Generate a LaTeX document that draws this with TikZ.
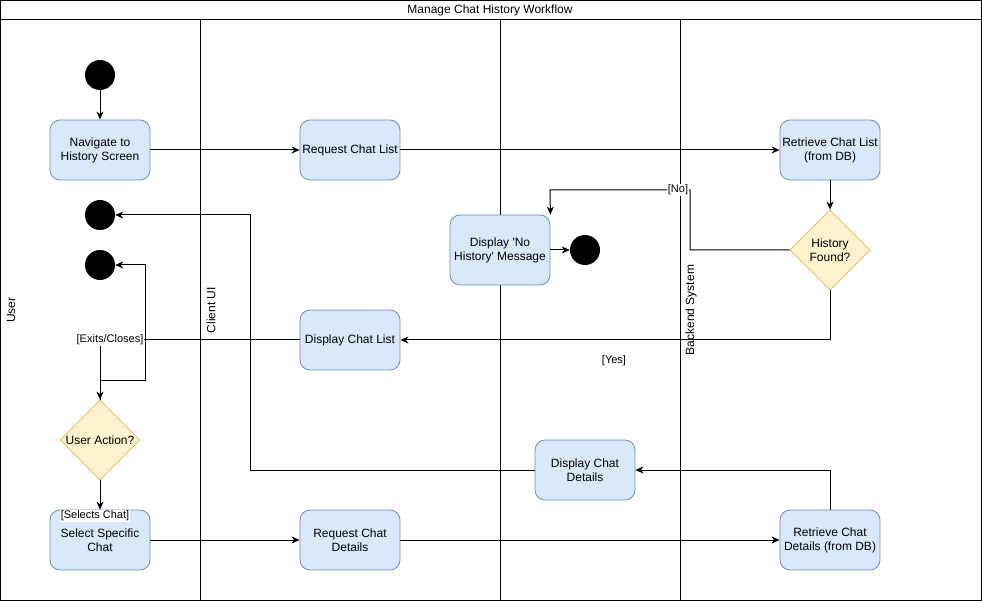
\documentclass[tikz,border=0pt]{standalone}
\usepackage{fontspec}
\setmainfont{Liberation Sans}
\usetikzlibrary{arrows.meta,shapes.geometric}
\definecolor{boxfill}{HTML}{DAE8FC}
\definecolor{boxline}{HTML}{6C8EBF}
\definecolor{decfill}{HTML}{FFF2CC}
\definecolor{decline}{HTML}{D6B656}
\begin{document}
\begin{tikzpicture}[x=1pt,y=-1pt,
  font=\fontsize{12}{14}\selectfont,
  act/.style={rectangle, rounded corners=10pt, draw=boxline, fill=boxfill, line width=0.8pt,
    minimum width=100pt, minimum height=60pt, align=center, inner sep=0pt},
  dec/.style={diamond, draw=decline, fill=decfill, line width=0.8pt,
    minimum width=80pt, minimum height=80pt, inner sep=0pt},
  dot/.style={circle, fill=black, minimum size=30pt, inner sep=0pt},
  lane/.style={draw=black, line width=1pt},
  arr/.style={draw=black, line width=1pt, -{Stealth[length=8pt,width=7pt,inset=2.5pt]}},
  elab/.style={font=\fontsize{11}{13}\selectfont, fill=white, inner sep=0.5pt},
  lanelab/.style={rotate=90, anchor=center}]
\useasboundingbox (0,0) rectangle (982,601);
% pool and lanes
\draw[lane] (0.5,0.5) rectangle (981,600);
\draw[lane] (0.5,20) -- (981,20);
\draw[lane] (200,20) -- (200,600);
\draw[lane] (500,20) -- (500,600);
\draw[lane] (680,20) -- (680,600);
\node (title) at (490,10) {Manage Chat History Workflow};
\node[lanelab] (luser) at (11,310) {User};
\node[lanelab] (lclient) at (211,310) {Client UI};
\node[lanelab] (lback) at (691,310) {Backend System};
% nodes
\node[dot] (start) at (100,75) {};
\node[act] (nav) at (100,150) {Navigate to\\History Screen};
\node[act] (rcl) at (350,150) {Request Chat List};
\node[act] (retl) at (830,150) {Retrieve Chat List\\(from DB)};
\node[dec, label={[align=center]center:History\\Found?}] (hf) at (830,250) {};
\node[act, minimum height=70pt] (nohist) at (500,250) {Display \textquotesingle No\\History\textquotesingle\ Message};
\node[dot] (end3) at (585,250) {};
\node[dot] (end1) at (100,215) {};
\node[dot] (end2) at (100,265) {};
\node[act] (dcl) at (350,340) {Display Chat List};
\node[dec, label={center:User Action?}] (ua) at (100,440) {};
\node[act] (dcd) at (585,470) {Display Chat\\Details};
\node[act] (ssc) at (100,540) {Select Specific\\Chat};
\node[act] (rcd) at (350,540) {Request Chat\\Details};
\node[act] (retd) at (830,540) {Retrieve Chat\\Details (from DB)};
% edges
\draw[arr] (start) -- (nav);
\draw[arr] (nav) -- (rcl);
\draw[arr] (rcl) -- (retl);
\draw[arr] (retl) -- (hf);
\draw[arr] (hf.west) -- (690,250) -- (690,190) -- (550,190) -- (nohist.north east);
\node[elab] (lno) at (678,190) {[No]};
\draw[arr] (nohist) -- (end3);
\draw[arr] (hf.south) |- (dcl.east);
\node[font=\fontsize{11}{13}\selectfont] (lyes) at (614,361) {[Yes]};
\draw[arr] (dcl.west) -| (ua.north);
\draw[arr] (ua.north) -- (100,380) -- (145,380) -- (145,265) -- (end2.east);
\node[elab] (lexit) at (110,340) {[Exits/Closes]};
\draw[arr] (ua.south) -- (ssc.north);
\node[elab] (lsel) at (95,516) {[Selects Chat]};
\draw[arr] (ssc) -- (rcd);
\draw[arr] (rcd) -- (retd);
\draw[arr] (retd.north) |- (dcd.east);
\draw[arr] (dcd.west) -- (250,470) -- (250,215) -- (end1.east);
\end{tikzpicture}
\end{document}
